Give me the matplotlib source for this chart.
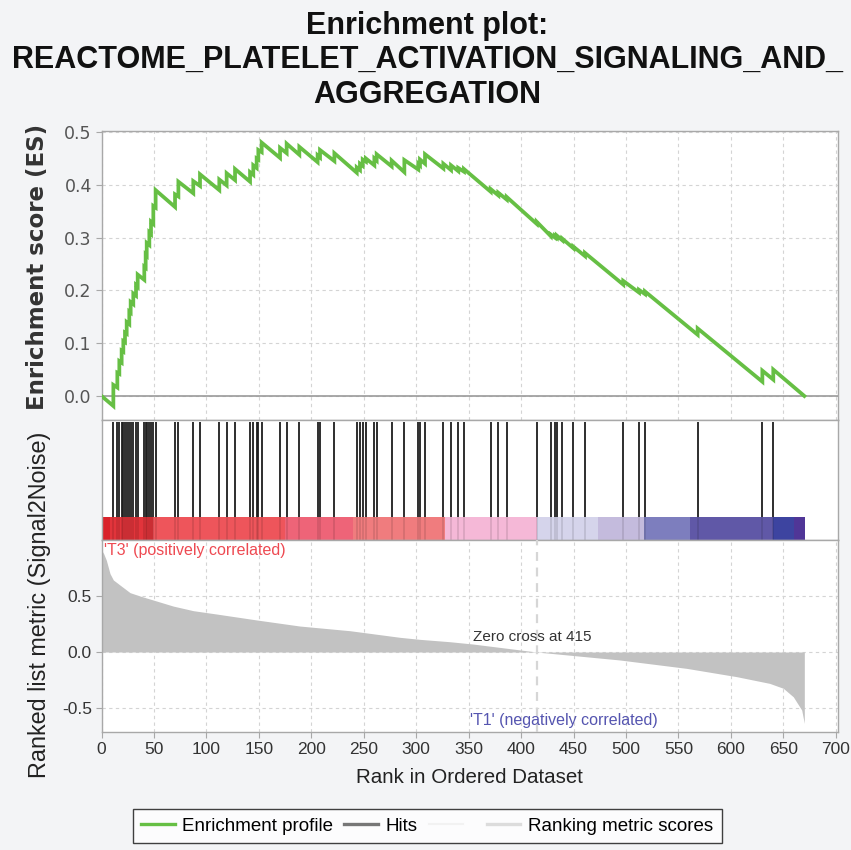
import matplotlib
matplotlib.use("Agg")
import matplotlib.pyplot as plt
from matplotlib.lines import Line2D

plt.rcParams['font.family'] = ['Liberation Sans', 'DejaVu Sans']

# --- data -------------------------------------------------------------
n_genes = 670
zero_cross = 415

# running enrichment score (vertices of the profile)
es_rank = [0, 11.3, 11.3, 15.1, 15.1, 17, 17, 19.2, 19.2, 20.8, 20.8, 22.4, 22.4, 24, 24,
           26.5, 26.5, 27.8, 27.8, 30.3, 30.3, 32.9, 32.9, 34.5, 34.5, 40.8, 40.8, 42.1, 42.1,
           43.1, 43.1, 45.6, 45.6, 47.2, 47.2, 49.4, 49.4, 51.6, 51.6,
           70.1, 70.1, 73.3, 73.3, 87.5, 87.5, 93.9, 93.9,
           112.3, 112.3, 119.3, 119.3, 127.3, 127.3, 141.6, 141.6, 144.7, 144.7,
           147.9, 147.9, 149.5, 149.5, 152.7, 152.7, 170.2, 170.2, 176.5, 176.5,
           188.6, 188.6, 206, 206, 208.3, 208.3, 222, 222, 243.3, 243.3, 246.4, 246.4,
           249, 249, 252, 252, 260.1, 260.1, 262.3, 262.3, 276.6, 276.6, 288.7, 288.7,
           302, 302, 303.6, 303.6, 308.4, 308.4, 325.9, 325.9, 333.2, 333.2, 340.1, 340.1,
           345.5, 345.5, 371, 371, 378.3, 378.3, 386.3, 386.3, 414.9, 414.9, 428.2, 428.2,
           432.3, 432.3, 434, 434, 439.3, 439.3, 449.8, 449.8, 460.9, 460.9, 497.4, 497.4,
           512.4, 512.4, 518.1, 518.1, 568.3, 568.3, 630, 630, 640.4, 640.4, 670]
es_score = [0.0, -0.019, 0.021, 0.016, 0.044, 0.042, 0.066, 0.063, 0.086, 0.084, 0.104,
            0.102, 0.12, 0.118, 0.14, 0.136, 0.16, 0.158, 0.178, 0.174, 0.194, 0.19, 0.21,
            0.207, 0.23, 0.22, 0.245, 0.243, 0.268, 0.266, 0.29, 0.286, 0.31, 0.307, 0.33,
            0.326, 0.36, 0.357, 0.39,
            0.358, 0.382, 0.378, 0.406, 0.384, 0.407, 0.398, 0.42,
            0.39, 0.41, 0.399, 0.422, 0.409, 0.43, 0.406, 0.424, 0.419, 0.437,
            0.432, 0.45, 0.448, 0.466, 0.462, 0.48, 0.451, 0.47, 0.46, 0.478,
            0.457, 0.472, 0.443, 0.456, 0.452, 0.466, 0.445, 0.46, 0.423, 0.433, 0.428, 0.44,
            0.436, 0.448, 0.444, 0.45, 0.437, 0.45, 0.446, 0.458, 0.435, 0.446, 0.424, 0.447,
            0.429, 0.44, 0.437, 0.448, 0.44, 0.458, 0.431, 0.44, 0.428, 0.437, 0.426, 0.432,
            0.425, 0.43, 0.387, 0.392, 0.38, 0.385, 0.372, 0.377, 0.326, 0.33, 0.303, 0.306,
            0.3, 0.303, 0.3, 0.304, 0.295, 0.298, 0.28, 0.283, 0.265, 0.271, 0.211, 0.218,
            0.196, 0.201, 0.193, 0.198, 0.116, 0.128, 0.027, 0.048, 0.031, 0.05, 0.0]

# positions of gene-set members in the ranked list
hit_ranks = [11.3, 15.1, 17, 19.2, 20.8, 22.4, 24, 26.5, 27.8, 30.3, 32.9, 34.5, 40.8, 42.1,
             43.1, 45.6, 47.2, 49.4, 51.6, 70.1, 73.3, 87.5, 93.9, 112.3, 119.3, 127.3, 141.6,
             144.7, 147.9, 149.5, 152.7, 170.2, 176.5, 188.6, 206, 208.3, 222, 243.3, 246.4,
             249, 251.8, 260.1, 262.3, 276.6, 288.7, 302, 303.6, 308.4, 325.9, 333.2, 340.1,
             345.5, 371, 378.3, 386.3, 414.9, 428.2, 432.3, 434, 439.3, 449.8, 460.9, 497.4,
             512.4, 518.1, 568.3, 630, 640.4]

# ranked list metric (signal2noise)
metric_rank = [0, 2, 4.6, 8.1, 11.3, 17.6, 27.2, 36.7, 49.4, 68.4, 87.5, 109.8, 148, 189, 237,
               284.6, 303.6, 332, 354.4, 414.9, 494, 557.9, 605.5, 637, 650, 659.5, 667.5, 670]
metric_score = [0.91, 0.88, 0.82, 0.70, 0.643, 0.598, 0.53, 0.50, 0.464, 0.41, 0.369, 0.339,
                0.286, 0.232, 0.19, 0.131, 0.113, 0.092, 0.071, 0.0, -0.071, -0.146, -0.22,
                -0.28, -0.324, -0.40, -0.518, -0.637]

# heat bar under the hits
band_edges = [0, 8, 49, 175, 240, 327.5, 415, 473.5, 517.5, 561, 640.4, 660.5, 670.6]
band_colors = ['#D9222A', '#E2343B', '#EE555B', '#EE6478', '#F07C7E', '#F5B8D7',
               '#D5D4EB', '#C4BBDD', '#7D7EBE', '#6058A7', '#3D44A0', '#503697']

x_ticks = list(range(0, 701, 50))

# --- figure -----------------------------------------------------------
bg = '#F3F4F6'
spine_col = '#A8A8A8'
grid_kw = dict(color='#D4D4D4', linestyle=(0, (3, 3)), linewidth=0.8)

fig = plt.figure(figsize=(8.51, 8.5), dpi=100, facecolor=bg)
W, H = 851, 850
left, right = 101.5, 838
xmax = (right - left) / 1.049

def px_axes(top, bottom):
    return fig.add_axes([left / W, (H - bottom) / H, (right - left) / W, (bottom - top) / H])

ax_es = px_axes(131, 420)
ax_hit = px_axes(420, 540)
ax_rm = px_axes(540, 732)

for ax in (ax_es, ax_hit, ax_rm):
    ax.set_facecolor('white')
    ax.set_xlim(0, xmax)
    for s in ax.spines.values():
        s.set_color(spine_col)
        s.set_linewidth(1.0)

# enrichment profile
ax_es.set_ylim(-0.0455, 0.502)
ax_es.set_yticks([0.0, 0.1, 0.2, 0.3, 0.4, 0.5])
ax_es.set_yticklabels(['0.0', '0.1', '0.2', '0.3', '0.4', '0.5'],
                      family='DejaVu Sans', fontsize=12.5, color='#555555')
ax_es.set_xticks(x_ticks)
ax_es.tick_params(axis='x', length=0, labelbottom=False)
ax_es.tick_params(axis='y', length=4, color=spine_col, pad=3)
ax_es.grid(True, **grid_kw)
ax_es.axhline(0, color='#9A9A9A', linewidth=1.2, zorder=2)
ax_es.plot(es_rank, es_score, color='#66BF44', linewidth=2.7, solid_joinstyle='miter', zorder=3)

# hits and heat bar
ax_hit.set_ylim(0, 1)
ax_hit.set_xticks([])
ax_hit.set_yticks([])
bar_top = 23 / 120
for i, c in enumerate(band_colors):
    ax_hit.axvspan(band_edges[i], band_edges[i + 1], ymin=0, ymax=bar_top,
                   facecolor=c, edgecolor='none', zorder=1)
ax_hit.vlines(hit_ranks, bar_top, 0.986, color='#1E1E1E', linewidth=1.3, zorder=2)
ax_hit.vlines(hit_ranks, 0, bar_top, color='#000000', linewidth=1.2, alpha=0.12, zorder=2)

# ranked list metric
ax_rm.set_ylim(-0.714, 1.0)
ax_rm.set_yticks([-0.5, 0.0, 0.5])
ax_rm.set_yticklabels(['-0.5', '0.0', '0.5'], fontsize=12.5, color='#333333')
ax_rm.set_xticks(x_ticks)
ax_rm.set_xticklabels([str(t) for t in x_ticks], fontsize=12.5, color='#333333')
ax_rm.tick_params(length=4, color=spine_col, pad=3)
ax_rm.grid(True, **grid_kw)
ax_rm.fill_between(metric_rank, metric_score, 0, color='#C2C2C2', linewidth=0, zorder=2)
ax_rm.axvline(zero_cross, color='#D6D6D6', linestyle=(0, (4, 3)), linewidth=1.6, zorder=3)
ax_rm.text(354, 0.134, 'Zero cross at %d' % zero_cross, fontsize=11, color='#333333',
           va='center', ha='left', zorder=4)
ax_rm.text(2.4, 0.905, "'T3' (positively correlated)", fontsize=11.5, color='#EE4A52',
           va='center', ha='left', zorder=4)
ax_rm.text(351, -0.607, "'T1' (negatively correlated)", fontsize=11.5, color='#5555B0',
           va='center', ha='left', zorder=4)
ax_rm.set_xlabel('Rank in Ordered Dataset', fontsize=14.8, color='#222222', labelpad=8)

# axis titles
fig.text(38 / W, 1 - 267 / H, 'Enrichment score (ES)', rotation=90, ha='center', va='center',
         family='DejaVu Sans', fontsize=16.5, color='#333333', fontweight='bold')
fig.text(40 / W, 1 - 605 / H, 'Ranked list metric (Signal2Noise)', rotation=90,
         ha='center', va='center', fontsize=16.8, color='#222222')

# title
title_lines = ['Enrichment plot:', 'REACTOME_PLATELET_ACTIVATION_SIGNALING_AND_', 'AGGREGATION']
for line, base in zip(title_lines, [34, 68, 103]):
    fig.text(427 / W, 1 - base / H, line, ha='center', va='baseline',
             fontsize=22, fontweight='bold', color='#111111')

# legend
handles = [Line2D([], [], color='#66BF44', linewidth=2.4),
           Line2D([], [], color='#777777', linewidth=2.4),
           Line2D([], [], color='#F2F2F2', linewidth=1.5),
           Line2D([], [], color='#DCDCDC', linewidth=2.4)]
labels = ['Enrichment profile', 'Hits', ' ', 'Ranking metric scores']
leg = fig.legend(handles, labels, loc='center', bbox_to_anchor=(427 / W, 1 - 826 / H),
                 ncol=4, fontsize=13.5, frameon=True, fancybox=False, handlelength=1.8,
                 handletextpad=0.4, columnspacing=0.6, borderpad=0.45, borderaxespad=0)
leg.get_frame().set_edgecolor('#111111')
leg.get_frame().set_linewidth(1.0)
leg.get_frame().set_facecolor('white')

fig.savefig('out.png', dpi=100, facecolor=bg)
